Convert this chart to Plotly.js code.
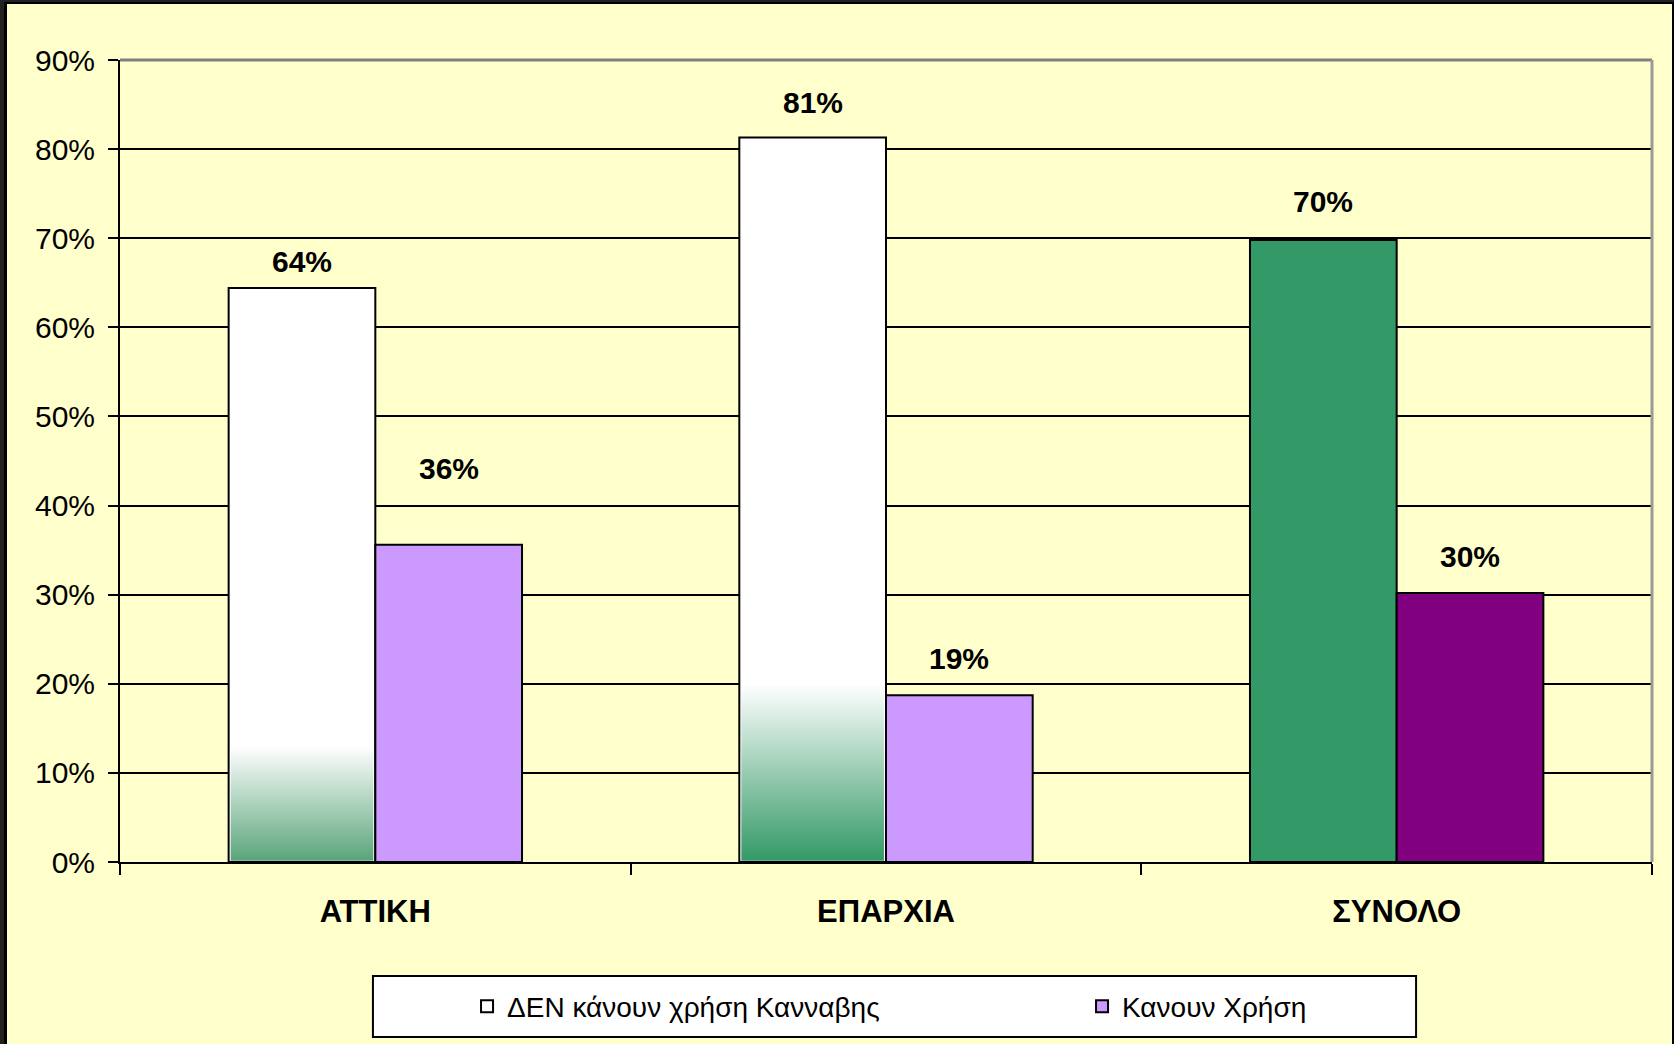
<!DOCTYPE html>
<html>
<head>
<meta charset="utf-8">
<script src="https://cdn.plot.ly/plotly-3.0.1.min.js"></script>
<style>
  html, body { margin: 0; padding: 0; background: #222222; width: 1674px; height: 1044px; overflow: hidden; }
  #frame { position: absolute; left: 4px; top: 2px; width: 1670px; height: 1042px; background: #000000; }
  #chart { position: absolute; left: 7px; top: 4px; width: 1665px; height: 1040px; }
</style>
</head>
<body>
<div id="frame"></div>
<div id="chart"></div>
<script>
// ---- data ----
const categories = ['ΑΤΤΙΚΗ', 'ΕΠΑΡΧΙΑ', 'ΣΥΝΟΛΟ'];
const seriesNames = ['ΔΕΝ κάνουν χρήση Κανναβης', 'Κανουν Χρήση'];
const notUsing = [64.4, 81.3, 69.8];
const using = [35.6, 18.7, 30.2];
const yTicks = [0, 10, 20, 30, 40, 50, 60, 70, 80, 90];

// ---- styles ----
const notUsingColors = ['#FFFFFF', '#FFFFFF', '#339966'];
const usingColors = ['#CC99FF', '#CC99FF', '#800080'];
const gradTop = [13, 20, null];            // height (in %) where the white-to-green fade starts
const gradBottom = ['#5AA57A', '#339966', null];
const labelLift = [[27, 35, 39], [76, 37, 36]]; // px above bar top
const bargap = 0.4255;
const w = (1 - bargap) / 2;

const font = '"Liberation Sans", Arial, sans-serif';

const traces = [
  {
    type: 'bar', name: seriesNames[0], x: categories, y: notUsing,
    marker: { color: notUsingColors, line: { color: '#000000', width: 2 } },
    hoverinfo: 'skip'
  },
  {
    type: 'bar', name: seriesNames[1], x: categories, y: using,
    marker: { color: usingColors, line: { color: '#000000', width: 2 } },
    hoverinfo: 'skip'
  }
];

// gradient overlays on the bottom of the white bars
const ix = 0.004, iy = 0.15;
categories.forEach((c, i) => {
  if (gradTop[i] == null) return;
  const x0 = i - w + ix, x1 = i - ix;
  traces.push({
    type: 'scatter', mode: 'lines', xaxis: 'x2', yaxis: 'y',
    x: [x0, x1, x1, x0, x0], y: [iy, iy, gradTop[i], gradTop[i], iy],
    fill: 'toself', line: { width: 0 },
    fillgradient: { type: 'vertical', colorscale: [[0, gradBottom[i]], [1, '#FFFFFF']] },
    showlegend: false, hoverinfo: 'skip'
  });
});

const annotations = [];
[notUsing, using].forEach((vals, s) => {
  vals.forEach((v, i) => {
    annotations.push({
      xref: 'x2', yref: 'y', x: s === 0 ? i - w / 2 : i + w / 2, y: v,
      text: Math.round(v) + '%', showarrow: false, yanchor: 'middle',
      yshift: labelLift[s][i],
      font: { family: font, size: 30, color: '#000000', weight: 'bold' }
    });
  });
});

const layout = {
  width: 1665, height: 1040,
  margin: { l: 113, r: 20, t: 56, b: 182 },
  paper_bgcolor: '#FFFFCC', plot_bgcolor: '#FFFFCC',
  barmode: 'group', bargap: bargap, bargroupgap: 0,
  showlegend: true,
  xaxis: {
    type: 'category', range: [-0.5, 2.5], tickson: 'boundaries',
    ticks: 'outside', ticklen: 11, tickwidth: 2, tickcolor: '#000000',
    showline: true, linecolor: '#000000', linewidth: 2, showgrid: false,
    tickfont: { family: font, size: 31, color: '#000000', weight: 'bold' },
    ticklabelstandoff: 21, fixedrange: true, automargin: false
  },
  xaxis2: { overlaying: 'x', range: [-0.5, 2.5], visible: false, fixedrange: true },
  yaxis: {
    range: [0, 90], tickvals: yTicks, ticktext: yTicks.map(t => t + '%'),
    ticks: 'outside', ticklen: 10, tickwidth: 2, tickcolor: '#000000',
    showline: true, linecolor: '#000000', linewidth: 2,
    showgrid: true, gridcolor: '#000000', gridwidth: 2, zeroline: false,
    tickfont: { family: font, size: 30, color: '#000000' }, ticklabelstandoff: 7,
    fixedrange: true, automargin: false
  },
  legend: {
    orientation: 'h', xref: 'container', yref: 'container',
    x: 0.2763, xanchor: 'left', y: 0.036, yanchor: 'middle',
    bgcolor: 'rgba(0,0,0,0)', borderwidth: 0,
    entrywidth: 570, entrywidthmode: 'pixels',
    font: { family: font, size: 28, color: '#000000' }
  },
  shapes: [
    { type: 'line', xref: 'paper', yref: 'paper', x0: 0, x1: 1, y0: 1, y1: 1, line: { color: '#808080', width: 3 } },
    { type: 'line', xref: 'paper', yref: 'paper', x0: 1, x1: 1, y0: 0, y1: 1, line: { color: '#999999', width: 3 } },
    { type: 'rect', xref: 'paper', yref: 'paper', x0: 0.1651, x1: 0.846, y0: -0.2182, y1: -0.1421,
      fillcolor: '#FFFFFF', line: { color: '#000000', width: 2 }, layer: 'below' }
  ],
  annotations: annotations
};

Plotly.newPlot('chart', traces, layout, { displayModeBar: false, staticPlot: true });
</script>
</body>
</html>
